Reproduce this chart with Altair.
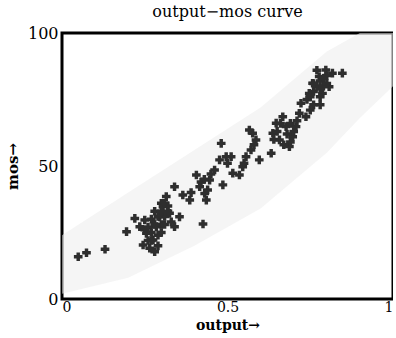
import altair as alt
import pandas as pd

# scatter points (output, mos)
out_vals = [0.049, 0.074, 0.130, 0.195, 0.220, 0.235, 0.250, 0.255, 0.245, 0.265,
            0.275, 0.285, 0.295, 0.305, 0.315, 0.325, 0.340, 0.355, 0.280, 0.426,
            0.340, 0.365, 0.386, 0.406, 0.416, 0.431, 0.436, 0.446, 0.461, 0.476,
            0.481, 0.486, 0.496, 0.511, 0.516, 0.536, 0.546, 0.556, 0.571, 0.576,
            0.566, 0.586, 0.596, 0.632, 0.637, 0.647, 0.657, 0.667, 0.677, 0.687,
            0.697, 0.707, 0.717, 0.722, 0.737, 0.747, 0.757, 0.777, 0.787, 0.797,
            0.807, 0.817, 0.847,
            0.26, 0.27, 0.29, 0.30, 0.31, 0.27, 0.26, 0.29, 0.30, 0.32, 0.31,
            0.28, 0.29, 0.30, 0.31, 0.32, 0.30, 0.28, 0.27, 0.33, 0.25,
            0.74, 0.76, 0.77, 0.78, 0.76, 0.79, 0.78, 0.80, 0.75,
            0.77, 0.79, 0.78, 0.76, 0.75, 0.78, 0.80,
            0.65, 0.66, 0.68, 0.69, 0.70, 0.67, 0.69, 0.64, 0.71,
            0.45, 0.42, 0.44, 0.39, 0.50, 0.55, 0.58, 0.43]
mos_vals = [15.9, 17.4, 18.7, 25.3, 30.3, 27.2, 29.7, 24.7, 20.3, 19.1,
            22.2, 27.2, 30.9, 34.7, 38.5, 32.2, 27.2, 30.9, 17.8, 28.2,
            42.2, 39.1, 37.2, 46.6, 42.2, 39.7, 37.2, 44.7, 48.5, 52.3,
            58.5, 42.9, 53.5, 53.5, 47.3, 46.6, 49.7, 53.5, 56.0, 62.3,
            63.5, 59.8, 52.3, 54.8, 62.3, 66.1, 59.8, 68.5, 64.8, 57.3,
            61.0, 64.8, 69.8, 73.6, 68.5, 77.3, 81.1, 83.6, 77.3, 86.1,
            79.8, 84.9, 84.9,
            27, 30, 24, 28, 31, 25, 22, 20, 36, 35, 28,
            33, 31, 33, 36, 33, 25, 28, 22, 29, 26,
            75, 78, 80, 82, 73, 80, 76, 84, 71,
            86, 83, 79, 81, 76, 73, 81,
            63, 66, 62, 66, 63, 58, 59, 60, 67,
            47, 44, 41, 40, 51, 51, 58, 45]

# faint speckled band
band_x = [0.0, 0.2, 0.4, 0.6, 0.8, 0.9, 1.0]
band_lo = [2, 8, 20, 34, 55, 68, 80]
band_hi = [24, 40, 56, 72, 93, 100, 100]

pts = pd.DataFrame({"output": out_vals, "mos": mos_vals})
band = pd.DataFrame({"x": band_x, "lo": band_lo, "hi": band_hi})

xs = alt.Scale(domain=[0, 1], nice=False)
ys = alt.Scale(domain=[0, 100], nice=False)

serif = "DejaVu Serif"

area = alt.Chart(band).mark_area(color="#ececec", opacity=0.55).encode(
    x=alt.X("x:Q", scale=xs,
            axis=alt.Axis(values=[0, 0.5, 1], labelExpr="datum.value == 0 ? '0' : datum.value == 1 ? '1' : '0.5'",
                          title="output→", grid=False, ticks=False, domain=False,
                          labelFont=serif, labelFontSize=14, labelColor="black",
                          labelPadding=1, titleFont=serif, titleFontSize=14,
                          titleFontWeight="bold", titleColor="black", titlePadding=4)),
    y=alt.Y("lo:Q", scale=ys,
            axis=alt.Axis(values=[0, 50, 100], title="mos→", grid=False, ticks=False,
                          domain=False, labelFont=serif, labelFontSize=16,
                          labelColor="black", labelPadding=4, titleFont=serif,
                          titleFontSize=15, titleFontWeight="bold", titleColor="black",
                          titlePadding=7)),
    y2="hi:Q",
)

scatter = alt.Chart(pts).mark_point(shape="cross", filled=True, color="#2e2e2e",
                                    size=75, opacity=1).encode(
    x=alt.X("output:Q", scale=xs),
    y=alt.Y("mos:Q", scale=ys),
)

chart = alt.layer(area, scatter).properties(
    width=331, height=266,
    title=alt.TitleParams("output−mos curve", font=serif, fontSize=16,
                          fontWeight="normal", color="black", offset=5),
    autosize=alt.AutoSizeParams(type="none"),
    padding={"left": 62, "top": 33, "right": 0, "bottom": 39},
    background="white",
).configure_view(stroke="black", strokeWidth=3)

chart.save("out.html", embed_options={"renderer": "svg", "actions": False})
